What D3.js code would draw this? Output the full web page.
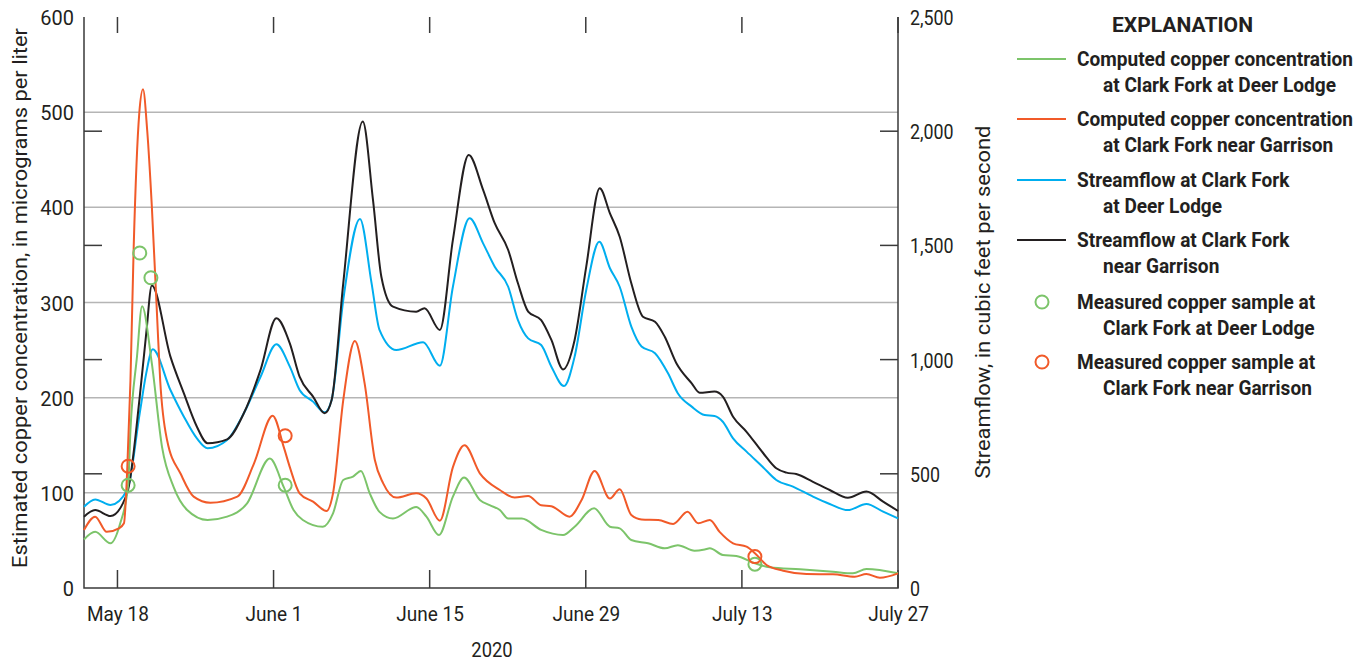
<!DOCTYPE html>
<html>
<head>
<meta charset="utf-8">
<script src="https://cdn.jsdelivr.net/npm/d3@7"></script>
<style>
  html, body { margin: 0; padding: 0; background: #fff; }
  svg { display: block; }
  text { font-family: Roboto, "Noto Sans", sans-serif; fill: #231f20; }
</style>
</head>
<body>
<svg id="chart" width="1366" height="662"></svg>
<script>
// ---------------- DATA ----------------
const xTickDates = ["2020-05-18T00", "2020-06-01T00", "2020-06-15T00", "2020-06-29T00", "2020-07-13T00", "2020-07-27T00"];
const xTickLabels = ["May 18", "June 1", "June 15", "June 29", "July 13", "July 27"];
const concTicks = [0, 100, 200, 300, 400, 500, 600];
const flowTicks = [0, 500, 1000, 1500, 2000, 2500];

// Streamflow at Clark Fork at Deer Lodge (cfs)
const flowDeerLodgeTime = ["05-15T00","05-16T00","05-17T09","05-18T21","05-20T00","05-20T14","05-21T04","05-22T18","05-23T23","05-25T03","05-26T02","05-27T20","05-29T08","05-30T20","06-01T06","06-02T11","06-03T08","06-04T13","06-05T14","06-06T05","06-07T06","06-08T18","06-09T19","06-10T12","06-12T00","06-14T10","06-15T22","06-17T02","06-18T14","06-19T19","06-20T20","06-22T01","06-22T22","06-23T20","06-25T00","06-25T22","06-27T01","06-28T00","06-29T01","06-30T05","07-01T04","07-02T01","07-03T02","07-04T00","07-05T05","07-06T09","07-07T06","07-08T12","07-09T16","07-10T13","07-11T07","07-12T05","07-13T10","07-14T22","07-16T02","07-17T14","07-19T09","07-20T21","07-22T12","07-24T04","07-25T16","07-27T00"];
const flowDeerLodge = [356,388,363,429,766,941,1045,867,750,655,612,648,765,925,1067,969,867,816,769,823,1261,1616,1334,1130,1042,1076,973,1319,1619,1509,1407,1319,1173,1093,1064,969,884,1013,1305,1516,1400,1319,1144,1057,1028,940,853,794,757,753,728,655,597,528,473,444,400,368,341,368,334,305];

// Streamflow at Clark Fork near Garrison (cfs)
const flowGarrisonTime = ["05-15T00","05-16T00","05-17T09","05-18T21","05-20T00","05-20T14","05-21T02","05-22T18","05-23T23","05-25T03","05-26T02","05-27T20","05-29T08","05-30T20","06-01T06","06-02T11","06-03T08","06-04T13","06-05T14","06-06T05","06-07T06","06-09T00","06-09T22","06-10T16","06-11T17","06-13T19","06-14T13","06-15T22","06-17T02","06-18T12","06-19T19","06-20T20","06-22T01","06-22T22","06-23T20","06-25T00","06-25T22","06-26T23","06-28T00","06-29T01","06-30T06","07-01T04","07-02T01","07-03T02","07-04T03","07-05T05","07-06T02","07-07T03","07-08T12","07-09T05","07-10T13","07-11T07","07-12T05","07-13T10","07-14T22","07-16T02","07-17T00","07-17T21","07-19T09","07-20T21","07-22T12","07-24T04","07-25T16","07-27T00"];
const flowGarrison = [312,341,315,416,838,1116,1324,1013,852,706,634,651,765,955,1181,1071,925,838,765,823,1334,2042,1699,1363,1232,1210,1225,1130,1524,1896,1743,1597,1480,1334,1210,1173,1086,957,1086,1407,1750,1640,1538,1334,1188,1166,1100,984,896,855,860,838,750,684,590,524,505,499,465,429,395,422,378,337];

// Computed copper concentration at Clark Fork at Deer Lodge (ug/L)
const copperDeerLodgeTime = ["05-15T00","05-16T00","05-17T09","05-18T06","05-18T23","05-19T04","05-19T18","05-20T05","05-21T02","05-22T00","05-23T01","05-24T06","05-26T02","05-27T20","05-29T15","05-31T16","06-01T22","06-02T19","06-03T15","06-05T10","06-06T08","06-07T06","06-08T03","06-08T20","06-09T15","06-10T12","06-11T17","06-13T19","06-14T17","06-15T20","06-17T02","06-18T02","06-19T12","06-20T09","06-21T07","06-22T01","06-23T06","06-25T00","06-26T23","06-28T00","06-29T18","07-01T04","07-02T01","07-03T02","07-04T14","07-06T02","07-07T06","07-08T18","07-09T16","07-10T03","07-11T07","07-12T12","07-14T04","07-15T12","07-18T05","07-21T04","07-22T23","07-24T04","07-27T00"];
const copperDeerLodge = [51,59,47,68,108,166,243,296,236,148,106,82,71.5,75,89,136,106,82,71.5,64.4,78.5,113.5,117,123,99.5,80,73,85,75,55.7,96,116,92.5,87,82,73,73,61,55.7,64.4,83.7,64.4,62.7,50.4,47,41.7,45,39.2,40.5,41.7,34.7,33.6,26,21.7,19.6,17.1,15.4,20,15.4];

// Computed copper concentration at Clark Fork near Garrison (ug/L)
const copperGarrisonTime = ["05-15T00","05-16T00","05-17T01","05-18T03","05-18T14","05-18T21","05-19T04","05-19T11","05-19T23","05-20T07","05-20T16","05-21T02","05-21T13","05-21T20","05-22T11","05-23T16","05-24T20","05-26T08","05-28T18","05-30T06","05-31T22","06-01T22","06-02T11","06-03T08","06-04T13","06-05T18","06-06T08","06-07T06","06-08T07","06-09T04","06-10T02","06-10T20","06-12T00","06-13T19","06-14T17","06-15T22","06-17T02","06-18T03","06-19T12","06-21T07","06-22T15","06-23T20","06-25T00","06-25T22","06-27T13","06-28T15","06-29T19","07-01T04","07-02T01","07-03T02","07-04T00","07-05T12","07-06T20","07-08T03","07-09T02","07-10T03","07-11T00","07-12T05","07-13T10","07-14T04","07-15T05","07-16T17","07-18T19","07-21T04","07-23T03","07-24T04","07-25T09","07-27T00"];
const copperGarrison = [61,75,59,62.7,68,124,218,359,499,524,481,401,289,218,155,120,96,89.6,96,131,181,148,127,99.5,90.7,81,99.5,197.5,259.5,215,134.5,110,95,99.5,94,70.7,127,150,120.5,103,95,96.7,87,86,75,92.5,123,94,103.7,76.7,72,71.5,67.2,80,68,71.5,59,47,43.4,36.5,24.2,18.2,14.7,14.4,11.9,14.7,10.8,15.4];

// Measured copper samples (ug/L)
const sampleDeerLodgeTime = ["05-18T23","05-20T00","05-21T00","06-02T01","07-14T04"];
const sampleDeerLodge = [108,352,326,108,25];
const sampleGarrisonTime = ["05-18T23","06-02T01","07-14T04"];
const sampleGarrison = [128,160,33];

const legendLabels = [
  ["Computed copper concentration", "at Clark Fork at Deer Lodge"],
  ["Computed copper concentration", "at Clark Fork near Garrison"],
  ["Streamflow at Clark Fork", "at Deer Lodge"],
  ["Streamflow at Clark Fork", "near Garrison"],
  ["Measured copper sample at", "Clark Fork at Deer Lodge"],
  ["Measured copper sample at", "Clark Fork near Garrison"]
];

// ---------------- CHART ----------------
const C_GREEN = "#7cc46a", C_RED = "#f15a29", C_BLUE = "#00aeef", C_BLACK = "#231f20";
const parse = d3.timeParse("%Y-%m-%dT%H");
const p = s => parse(s.length === 8 ? "2020-" + s : s);

const svg = d3.select("#chart");
const L = 84, R = 898, T = 17, B = 588;

const x = d3.scaleTime().domain([p("05-15T00"), p("07-27T00")]).range([L, R]);
const yC = d3.scaleLinear().domain([0, 600]).range([B, T]);
const yQ = d3.scaleLinear().domain([0, 2500]).range([B, T]);

// condense text horizontally by factor k (keeps it real text)
function condense(sel, k) {
  sel.each(function () {
    const w = this.getComputedTextLength();
    d3.select(this).attr("textLength", w * k).attr("lengthAdjust", "spacingAndGlyphs");
  });
}

// gridlines
svg.append("g").selectAll("line")
  .data(concTicks.filter(v => v > 0 && v < 600))
  .join("line")
  .attr("x1", L).attr("x2", R)
  .attr("y1", d => yC(d)).attr("y2", d => yC(d))
  .attr("stroke", "#b5b5b5").attr("stroke-width", 1.5);

// left axis (concentration)
const axL = svg.append("g").attr("transform", `translate(${L},0)`)
  .call(d3.axisLeft(yC).tickValues(concTicks).tickSize(0).tickPadding(10).tickFormat(d3.format("d")));
axL.select(".domain").remove();
axL.selectAll("text").attr("font-size", 21).attr("fill", "#231f20").attr("dy", "0.36em").call(condense, 0.95);

// right axis (streamflow)
const axR = svg.append("g").attr("transform", `translate(${R},0)`)
  .call(d3.axisRight(yQ).tickValues(flowTicks).tickSize(0).tickPadding(12).tickFormat(d3.format(",")));
axR.select(".domain").remove();
axR.selectAll("text").attr("font-size", 21).attr("fill", "#231f20").attr("dy", "0.36em").call(condense, 0.85);

// inward flow ticks on both sides
const inner = flowTicks.filter(v => v > 0 && v < 2500);
svg.append("g").selectAll("line").data(inner).join("line")
  .attr("x1", L).attr("x2", L + 18).attr("y1", d => yQ(d)).attr("y2", d => yQ(d))
  .attr("stroke", "#3a3a3a").attr("stroke-width", 1.5);
svg.append("g").selectAll("line").data(inner).join("line")
  .attr("x1", R - 18).attr("x2", R).attr("y1", d => yQ(d)).attr("y2", d => yQ(d))
  .attr("stroke", "#3a3a3a").attr("stroke-width", 1.5);

// bottom axis
const xt = xTickDates.map(p);
const axB = svg.append("g").attr("transform", `translate(0,${B})`)
  .call(d3.axisBottom(x).tickValues(xt).tickSize(0).tickPadding(19)
    .tickFormat((d, i) => xTickLabels[i]));
axB.select(".domain").remove();
axB.selectAll("text").attr("font-size", 20).attr("fill", "#231f20").call(condense, 0.95);
// inward date ticks (bottom and top)
svg.append("g").selectAll("line").data(xt).join("line")
  .attr("x1", d => x(d)).attr("x2", d => x(d)).attr("y1", B).attr("y2", B - 18)
  .attr("stroke", "#3a3a3a").attr("stroke-width", 1.5);
svg.append("g").selectAll("line").data(xt).join("line")
  .attr("x1", d => x(d)).attr("x2", d => x(d)).attr("y1", T).attr("y2", T + 16)
  .attr("stroke", "#3a3a3a").attr("stroke-width", 1.5);

// frame
svg.append("path")
  .attr("d", `M${L},${T}V${B}H${R}V${T}`)
  .attr("fill", "none").attr("stroke", "#3a3a3a").attr("stroke-width", 1.5);

// series lines
function series(times, vals, yScale, color) {
  const pts = times.map((t, i) => [p(t), vals[i]]);
  svg.append("path").datum(pts)
    .attr("fill", "none").attr("stroke", color).attr("stroke-width", 2)
    .attr("stroke-linejoin", "round")
    .attr("d", d3.line().x(d => x(d[0])).y(d => yScale(d[1])).curve(d3.curveMonotoneX));
}
series(flowDeerLodgeTime, flowDeerLodge, yQ, C_BLUE);
series(flowGarrisonTime, flowGarrison, yQ, C_BLACK);
series(copperDeerLodgeTime, copperDeerLodge, yC, C_GREEN);
series(copperGarrisonTime, copperGarrison, yC, C_RED);

// samples
function samples(times, vals, color) {
  svg.append("g").selectAll("circle").data(times.map((t, i) => [p(t), vals[i]])).join("circle")
    .attr("cx", d => x(d[0])).attr("cy", d => yC(d[1])).attr("r", 6.5)
    .attr("fill", "none").attr("stroke", color).attr("stroke-width", 2);
}
samples(sampleDeerLodgeTime, sampleDeerLodge, C_GREEN);
samples(sampleGarrisonTime, sampleGarrison, C_RED);

// axis titles
svg.append("text").attr("transform", "translate(27,298) rotate(-90)")
  .attr("text-anchor", "middle").attr("font-size", 21)
  .attr("textLength", 540).attr("lengthAdjust", "spacingAndGlyphs")
  .text("Estimated copper concentration, in micrograms per liter");
svg.append("text").attr("transform", "translate(990,302) rotate(-90)")
  .attr("text-anchor", "middle").attr("font-size", 21)
  .attr("textLength", 353).attr("lengthAdjust", "spacingAndGlyphs")
  .text("Streamflow, in cubic feet per second");
svg.append("text").attr("x", 492).attr("y", 657).attr("text-anchor", "middle").attr("font-size", 20)
  .text("2020").call(condense, 0.92);

// legend
const lg = svg.append("g");
lg.append("text").attr("x", 1112).attr("y", 32)
  .attr("font-size", 21).attr("font-weight", "bold").text("EXPLANATION")
  .attr("textLength", 141).attr("lengthAdjust", "spacingAndGlyphs");
const rowY = [59, 119, 180, 240, 302, 362];
const kinds = [["line", C_GREEN], ["line", C_RED], ["line", C_BLUE], ["line", C_BLACK], ["circle", C_GREEN], ["circle", C_RED]];
const legTexts = [];
legendLabels.forEach((lab, i) => {
  const y = rowY[i];
  if (kinds[i][0] === "line") {
    lg.append("line").attr("x1", 1017).attr("x2", 1066).attr("y1", y).attr("y2", y)
      .attr("stroke", kinds[i][1]).attr("stroke-width", 2);
  } else {
    lg.append("circle").attr("cx", 1042).attr("cy", y).attr("r", 6.5)
      .attr("fill", "none").attr("stroke", kinds[i][1]).attr("stroke-width", 2);
  }
  legTexts.push(lg.append("text").attr("x", 1077).attr("y", y + 7).attr("font-size", 20).attr("font-weight", "bold").text(lab[0]).node());
  legTexts.push(lg.append("text").attr("x", 1103).attr("y", y + 33).attr("font-size", 20).attr("font-weight", "bold").text(lab[1]).node());
});
// common condensation so the longest line spans the reference width
const kLeg = 276 / legTexts[0].getComputedTextLength();
condense(d3.selectAll(legTexts), kLeg);
</script>
</body>
</html>
